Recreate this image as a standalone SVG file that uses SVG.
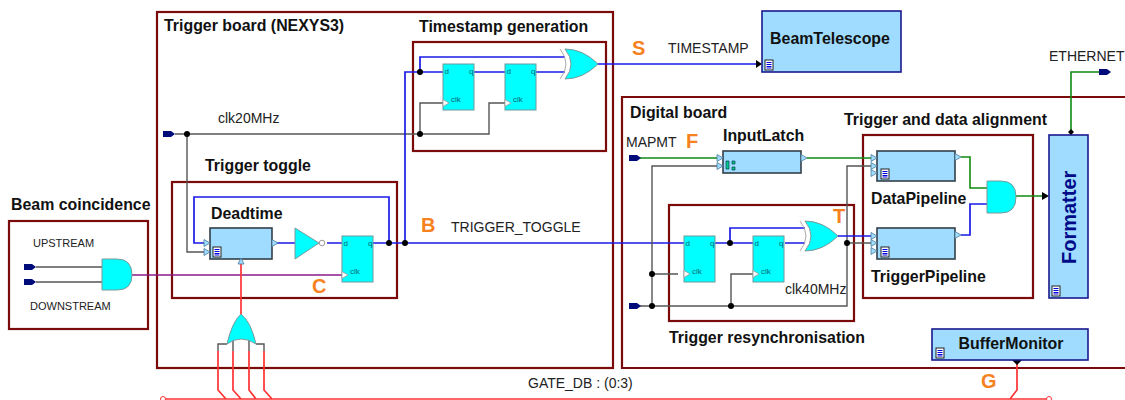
<svg xmlns="http://www.w3.org/2000/svg" width="1125" height="400" viewBox="0 0 1125 400">
<style>
text{font-family:"Liberation Sans",Arial,sans-serif;fill:#222}
.t{font-size:15.9px;font-weight:bold;fill:#111}
.s{font-size:14px}
.o{font-size:20px;font-weight:bold;fill:#f5821f}
.c{font-size:8px;fill:#067}
.frame{fill:none;stroke:#7b0a0a;stroke-width:2.2}
.blk{fill:#9fdcff;stroke:#333f48;stroke-width:1.6}
.blk2{fill:#9fdcff;stroke:#1a1a8c;stroke-width:1.6}
.ff{fill:#00ffff;stroke:#6f9a9a;stroke-width:1}
.gate{fill:#00ffff;stroke:#7a9a9a;stroke-width:1}
.w{fill:none;stroke-width:1.4}
.blue{stroke:#1a1ae6;stroke-width:1.7}
.gray{stroke:#555}
.green{stroke:#118a11;stroke-width:1.6}
.red{stroke:#f33;stroke-width:1.7}
.pur{stroke:#8a1a8a;stroke-width:1.6}
.in{fill:#9fdcff;stroke:#4a7a9a;stroke-width:.8}
.ck{fill:#fff;stroke:#999;stroke-width:.8}
.dot{fill:#000}
.port{fill:#000b7a}
</style>
<defs>
<g id="doc"><rect x="0" y="0" width="8" height="10" fill="#fff" stroke="#222" stroke-width="1"/><path d="M1.5 2.5H6.5M1.5 4.5H6.5M1.5 6.5H6.5M1.5 8H6.5" stroke="#00d" stroke-width="1"/></g>
<path id="pr" d="M0 -3H8L12 0L8 3H0Z" class="port"/>
<path id="tri" d="M0 -3.5L6 0L0 3.5Z" class="in"/>
<path id="ckt" d="M0 -3.5L6 0L0 3.5Z" class="ck"/>
<g id="dff"><rect width="31" height="46" class="ff"/><text x="1.5" y="10" class="c">d</text><text x="26" y="10" class="c">q</text><text x="8" y="38" class="c">clk</text></g>
<path id="xor" d="M0 0Q18 0 33 15Q18 30 0 30Q12 15 0 0Z" class="gate"/>
<path id="xb" d="M-5 0Q7 15 -5 30" fill="none" stroke="#aaa" stroke-width="1"/>
</defs>

<g id="frames">
<rect id="trigger-board" x="157" y="12" width="456" height="356" class="frame"/>
<rect id="beam-box" x="9" y="221" width="139" height="108" class="frame"/>
<rect id="toggle-box" x="172" y="182" width="225" height="116" class="frame"/>
<rect id="timestamp-box" x="413" y="42" width="193" height="109" class="frame"/>
<path id="digital-board" d="M1125 97H622V368H1125" class="frame"/>
<rect id="resync-box" x="669" y="205" width="185" height="116" class="frame"/>
<rect id="align-box" x="863" y="135" width="170" height="163" class="frame"/>
</g>

<g id="connectors">
<path class="w gray" d="M36 267H102M36 282H102"/>
<path class="w pur" d="M132 275H342"/>
<path class="w gray" d="M175 134H420M420 134H489V103H505M420 134V103H443M187 134V252H204"/>
<path class="w blue" d="M373 243H684M405 243V72H443M420 72V57H565M474 72H505M536 72H565M597 64H756"/>
<path class="w blue" d="M389 243V197H194V243H204M272 243H295M327 243H342"/>
<path class="w red" d="M241 314V264"/>
<path class="w gray" d="M227 344H218V351M256 344H264V351M233 339V351M249 339V351"/>
<path class="w red" d="M218 351V390L226 399M233 351V390L241 399M249 351V390L256 399M264 351V390L272 399M163 399H1049M1017 364V390L1010 399"/>
<path class="w green" d="M640 158H717M807 158H871"/>
<path class="w gray" d="M723 166H652V306M640 306H847V166H871M652 274H678M731 306V274H753M847 243H871"/>
<path class="w blue" d="M714 243H753M785 243H805M730 243V228H805M838 236H871"/>
<path class="w green" d="M961 157H970V188H987M1016 196H1043M1071 135V72H1099"/>
<path class="w blue" d="M961 235H970V204H987"/>
<path d="M756 60L762 64L756 68Z M1042 192L1049 196L1042 200Z M1012 360H1022L1017 365Z M1068 132L1071 129L1074 132L1071 135Z" class="dot"/>
<g class="dot"><circle cx="187" cy="134" r="3"/><circle cx="389" cy="243" r="3"/><circle cx="405" cy="243" r="3"/><circle cx="420" cy="72" r="3"/><circle cx="420" cy="134" r="3"/><circle cx="652" cy="274" r="3"/><circle cx="652" cy="306" r="3"/><circle cx="730" cy="243" r="3"/><circle cx="731" cy="306" r="3"/><circle cx="847" cy="243" r="3"/></g>
<circle cx="163" cy="399" r="2.5" fill="#fff" stroke="#f33"/><circle cx="1049" cy="399" r="2.5" fill="#fff" stroke="#f33"/>
<use href="#pr" x="24" y="267"/><use href="#pr" x="24" y="282"/><use href="#pr" x="163" y="134"/><use href="#pr" x="629" y="158"/><use href="#pr" x="629" y="306"/><use href="#pr" x="1099" y="72"/>
</g>

<g id="beam-gate"><path d="M102 259H117Q132 259 132 275Q132 290 117 290H102Z" class="gate"/></g>
<g id="or-gate"><path d="M227 344Q232 322 241 314Q251 322 256 344Q241 334 227 344Z" class="gate"/></g>
<g id="deadtime"><rect x="210" y="228" width="62" height="31" class="blk"/><use href="#doc" x="213" y="247"/><use href="#tri" x="204" y="243"/><use href="#tri" x="204" y="252"/><use href="#tri" x="272" y="243"/><path d="M238 264L241 258L244 264Z" class="in"/></g>
<g id="inverter"><path d="M295 228L319 243L295 259Z" class="gate"/><circle cx="322" cy="243" r="2.8" fill="#fff" stroke="#999"/></g>
<g id="ff-toggle"><use href="#dff" x="342" y="236"/><use href="#ckt" x="342" y="275"/></g>
<g id="ff-ts1"><use href="#dff" x="443" y="64"/><use href="#ckt" x="443" y="103"/></g>
<g id="ff-ts2"><use href="#dff" x="505" y="64"/><use href="#ckt" x="505" y="103"/></g>
<g id="xor-ts"><use href="#xb" x="565" y="49"/><use href="#xor" x="565" y="49"/></g>
<g id="beam-telescope"><rect x="762" y="11" width="139" height="61" class="blk2"/><use href="#doc" x="765" y="60"/><text x="830" y="44" text-anchor="middle" class="t">BeamTelescope</text></g>
<g id="input-latch"><rect x="723" y="151" width="78" height="22" class="blk"/><use href="#tri" x="717" y="158"/><use href="#tri" x="717" y="166"/><use href="#tri" x="801" y="158"/><path d="M726 161h3v8h-3zM732 161h3v3h-3zM732 167h3v3h-3z" fill="#0c8" stroke="#024" stroke-width=".6"/></g>
<g id="ff-rs1"><use href="#dff" x="684" y="236"/><use href="#ckt" x="684" y="274"/></g>
<g id="ff-rs2"><use href="#dff" x="753" y="236"/><use href="#ckt" x="753" y="274"/></g>
<g id="xor-rs"><use href="#xb" x="805" y="221"/><use href="#xor" x="805" y="221"/></g>
<g id="data-pipeline"><rect x="877" y="151" width="78" height="30" class="blk"/><use href="#doc" x="881" y="169"/><use href="#tri" x="871" y="158"/><use href="#tri" x="871" y="166"/><use href="#tri" x="871" y="173"/><use href="#tri" x="955" y="157"/></g>
<g id="trigger-pipeline"><rect x="877" y="228" width="78" height="31" class="blk"/><use href="#doc" x="881" y="247"/><use href="#tri" x="871" y="236"/><use href="#tri" x="871" y="243"/><use href="#tri" x="871" y="251"/><use href="#tri" x="955" y="235"/></g>
<g id="and-gate"><path d="M987 181H1001Q1016 181 1016 197Q1016 213 1001 213H987Z" class="gate"/></g>
<g id="formatter"><rect x="1049" y="135" width="39" height="163" class="blk2"/><use href="#doc" x="1052" y="286"/><text transform="translate(1076 264) rotate(-90)" style="font-size:20px;font-weight:bold;fill:#000b8a">Formatter</text></g>
<g id="buffer-monitor"><rect x="932" y="329" width="156" height="31" class="blk2"/><use href="#doc" x="936" y="348"/><text x="1011" y="349" text-anchor="middle" class="t">BufferMonitor</text></g>

<g id="labels">
<text x="164" y="31" class="t">Trigger board (NEXYS3)</text>
<text x="419" y="32" class="t">Timestamp generation</text>
<text x="205" y="171" class="t">Trigger toggle</text>
<text x="211" y="219" class="t">Deadtime</text>
<text x="11" y="210" class="t">Beam coincidence</text>
<text x="630" y="118" class="t">Digital board</text>
<text x="723" y="141" class="t">InputLatch</text>
<text x="844" y="125" class="t">Trigger and data alignment</text>
<text x="871" y="204" class="t">DataPipeline</text>
<text x="871" y="282" class="t">TriggerPipeline</text>
<text x="669" y="343" class="t">Trigger resynchronisation</text>
<text x="218" y="123" class="s">clk20MHz</text>
<text x="33" y="247" class="s" style="font-size:11px">UPSTREAM</text>
<text x="30" y="310" class="s" style="font-size:11px">DOWNSTREAM</text>
<text x="668" y="53" class="s">TIMESTAMP</text>
<text x="451" y="232" class="s">TRIGGER_TOGGLE</text>
<text x="626" y="147" class="s">MAPMT</text>
<text x="785" y="294" class="s">clk40MHz</text>
<text x="528" y="388" class="s">GATE_DB : (0:3)</text>
<text x="1049" y="61" class="s">ETHERNET</text>
<text x="632" y="55" class="o">S</text>
<text x="421" y="232" class="o">B</text>
<text x="312" y="293" class="o">C</text>
<text x="686" y="148" class="o">F</text>
<text x="833" y="223" class="o">T</text>
<text x="981" y="388" class="o">G</text>
</g>
</svg>
